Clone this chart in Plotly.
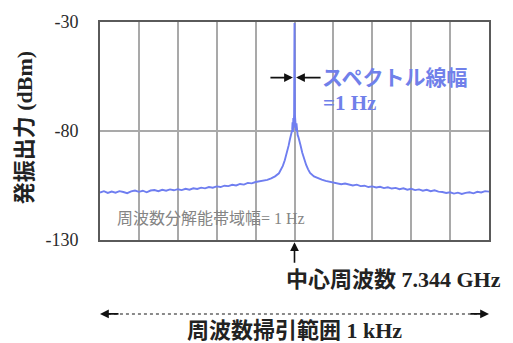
import plotly.graph_objects as go

# Spectrum trace: frequency offset from carrier (Hz) and output power (dBm)
freq_hz = [
    -500, -490, -480, -470, -460, -450, -440, -430, -420, -410,
    -400, -390, -380, -370, -360, -350, -340, -330, -320, -310,
    -300, -290, -280, -270, -260, -250, -240, -230, -220, -210,
    -200, -190, -180, -170, -160, -150, -140, -130, -120, -110,
    -100, -90, -80, -70, -60, -50, -40, -35, -30, -25,
    -20, -15, -12, -10, -8, -6, -5, -4, -3, -2,
    -1, 0, 1, 2, 3, 4, 5, 6, 8, 10,
    12, 15, 20, 25, 30, 35, 40, 50, 60, 70,
    80, 90, 100, 110, 120, 130, 140, 150, 160, 170,
    180, 190, 200, 210, 220, 230, 240, 250, 260, 270,
    280, 290, 300, 310, 320, 330, 340, 350, 360, 370,
    380, 390, 400, 410, 420, 430, 440, 450, 460, 470,
    480, 490, 500,
]
power_dbm = [
    -108.2, -107.6, -108.4, -107.8, -108.3, -107.6, -108.0, -108.5, -107.7, -107.3,
    -107.9, -107.4, -108.1, -107.3, -107.1, -107.6, -107.0, -107.4, -106.8, -107.2,
    -106.7, -107.1, -106.5, -106.9, -106.3, -106.6, -106.0, -106.3, -105.7, -106.0,
    -105.4, -105.7, -105.1, -105.3, -104.7, -105.0, -104.3, -104.6, -103.8, -104.0,
    -103.4, -103.1, -102.9, -102.4, -101.7, -100.8, -99.4, -98.0, -96.0, -93.4,
    -90.4, -86.6, -84.0, -82.6, -81.6, -79.5, -76.0, -80.5, -74.0, -78.5,
    -72.0, -30.5, -72.5, -78.0, -73.5, -80.0, -76.5, -80.0, -81.8, -82.8,
    -83.8, -86.2, -90.0, -93.0, -95.6, -97.6, -99.2, -100.8, -101.7, -102.3,
    -102.9, -103.3, -103.6, -103.9, -104.4, -104.1, -104.7, -105.0, -104.6, -105.3,
    -105.1, -105.7, -105.4, -105.9, -105.6, -106.2, -105.8, -106.4, -106.1, -106.7,
    -106.3, -106.9, -106.5, -107.1, -106.8, -107.4, -107.0, -107.6, -107.2, -107.8,
    -108.0, -108.4, -108.1, -108.7, -108.3, -108.9, -108.4, -108.1, -108.6, -107.9,
    -108.2, -107.6, -107.8,
]

y_ticks = [-130, -80, -30]
x_grid_step = 100

title_font = "Liberation Serif, Noto Sans CJK JP"

fig = go.Figure()
fig.add_trace(go.Scatter(
    x=freq_hz, y=power_dbm, mode="lines",
    line=dict(color="#6f7ef0", width=1.9),
    hoverinfo="skip", showlegend=False,
))

fig.update_layout(
    width=513, height=343,
    margin=dict(l=100, r=24, t=16, b=103),
    paper_bgcolor="white", plot_bgcolor="white",
    xaxis=dict(
        range=[-500, 500], dtick=x_grid_step, tick0=0,
        showticklabels=False, ticks="",
        showgrid=True, gridcolor="#a9a9a9", gridwidth=1.5,
        zeroline=False,
        showline=True, linecolor="#5a5a5a", linewidth=2, mirror=True,
    ),
    yaxis=dict(
        range=[-130, -30], tickvals=y_ticks, ticktext=[str(v) for v in y_ticks],
        ticks="", ticklabelstandoff=16,
        tickfont=dict(family="Liberation Serif", size=18, color="#2a2a2a"),
        showgrid=True, gridcolor="#a9a9a9", gridwidth=1.5,
        zeroline=False,
        showline=True, linecolor="#5a5a5a", linewidth=2, mirror=True,
    ),
)

arrow_style = dict(showarrow=True, arrowhead=2, arrowsize=1.1, arrowwidth=1.6, arrowcolor="#111")

annotations = [
    # y-axis title
    dict(text="<b>発振出力 (dBm)</b>", xref="paper", yref="paper",
         x=-0.195, y=0.513, xanchor="center", yanchor="middle", textangle=-90,
         showarrow=False, font=dict(family=title_font, size=22, color="#222")),
    # linewidth label
    dict(text="<b>スペクトル線幅</b>", xref="x", yref="y",
         x=66, y=-55.5, xanchor="left", yanchor="middle", showarrow=False,
         font=dict(family=title_font, size=21, color="#7080ea")),
    dict(text="<b>=1 Hz</b>", xref="x", yref="y",
         x=68, y=-67, xanchor="left", yanchor="middle", showarrow=False,
         font=dict(family=title_font, size=21, color="#7080ea")),
    # inward arrows marking the linewidth
    dict(text="", xref="x", yref="y", x=-4, y=-55.5, ax=-24, ay=0, **arrow_style),
    dict(text="", xref="x", yref="y", x=4, y=-55.5, ax=26, ay=0, **arrow_style),
    # resolution bandwidth note
    dict(text="周波数分解能帯域幅= 1 Hz", xref="x", yref="y",
         x=-462, y=-120, xanchor="left", yanchor="middle", showarrow=False,
         font=dict(family=title_font, size=16, color="#858585")),
    # centre frequency marker
    dict(text="", xref="x", yref="paper", x=0, y=-0.01, ax=0, ay=22, **arrow_style),
    dict(text="<b>中心周波数 7.344 GHz</b>", xref="x", yref="paper",
         x=-26, y=-0.18, xanchor="left", yanchor="middle", showarrow=False,
         font=dict(family=title_font, size=22, color="#222")),
    # sweep span
    dict(text="", xref="x", yref="paper", x=-500, y=-0.339, ax=20, ay=0, **arrow_style),
    dict(text="", xref="x", yref="paper", x=500, y=-0.339, ax=-20, ay=0, **arrow_style),
    dict(text="<b>周波数掃引範囲 1 kHz</b>", xref="x", yref="paper",
         x=0, y=-0.415, xanchor="center", yanchor="middle", showarrow=False,
         font=dict(family=title_font, size=22, color="#222")),
]
fig.update_layout(annotations=annotations)

fig.add_shape(type="line", xref="x", yref="paper", x0=-495, x1=495, y0=-0.339, y1=-0.339,
              line=dict(color="#8a8a8a", width=2, dash="dot"))

fig.write_html("out.html")
